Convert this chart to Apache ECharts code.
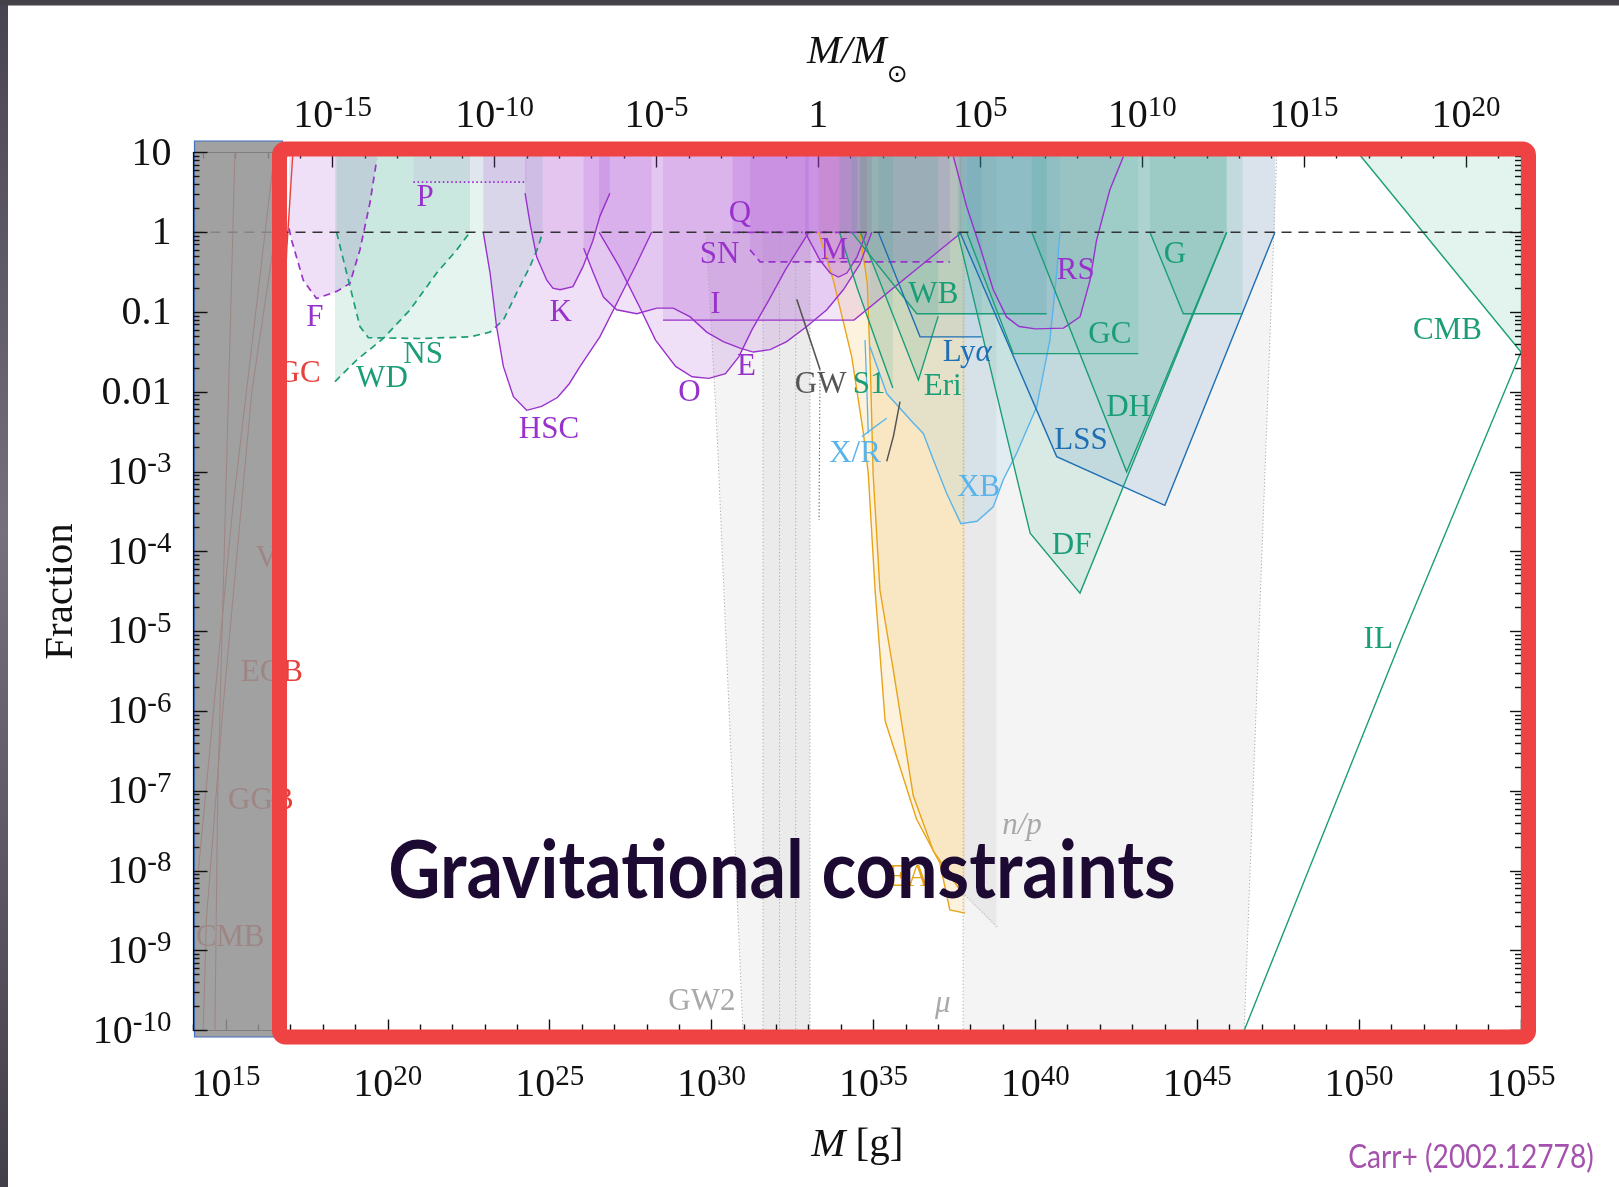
<!DOCTYPE html>
<html>
<head>
<meta charset="utf-8">
<title>PBH abundance constraints</title>
<script src="https://cdn.jsdelivr.net/npm/echarts@6.0.0/dist/echarts.min.js"></script>
<style>
html,body{margin:0;padding:0;background:#fff;}
#chart{width:1619px;height:1187px;}
</style>
</head>
<body>
<div id="chart"></div>
<script>
// ---- axis ticks --------------------------------------------------------
// bottom axis: log10(M / g)
const massTicks = [15, 20, 25, 30, 35, 40, 45, 50, 55];
// top axis: log10(M / Msun)
const solarTicks = [-15, -10, -5, 0, 5, 10, 15, 20];
// left axis: log10 f
const fractionTicks = [1, 0, -1, -2, -3, -4, -5, -6, -7, -8, -9, -10];
const LOG_MSUN_G = 33.2986;

// ---- constraint boundaries, points are [log10 M/g, log10 f] -------------
const femtolensing = [[16.95,0.05],[17.03,-0.10],[17.39,-0.60],[17.80,-0.83],[18.42,-0.74],[18.83,-0.64],[19.14,-0.22],[19.45,0.37],[19.66,0.91]];
const whiteDwarfs = [[18.37,-1.87],[19.04,-1.60],[19.86,-1.33],[20.69,-0.97],[21.51,-0.51],[22.13,-0.22],[22.54,0]];
const neutronStars = [[18.42,0],[18.73,-0.51],[19.14,-1.18],[19.40,-1.32],[21.00,-1.33],[22.54,-1.31],[23.16,-1.25],[23.57,-1.10],[23.98,-0.76],[24.39,-0.43],[24.65,-0.18],[24.78,0]];
const pulsarTiming = [[20.79,0.63],[24.29,0.63]];
const hsc = [[22.95,0],[23.16,-0.51],[23.36,-1.18],[23.57,-1.68],[23.88,-2.06],[24.29,-2.23],[24.75,-2.18],[25.24,-2.07],[25.60,-1.90],[25.94,-1.68],[26.55,-1.31],[27.17,-0.81],[27.69,-0.39],[28.15,0]];
const kepler = [[24.24,0.49],[24.40,0.10],[24.60,-0.31],[24.91,-0.60],[25.10,-0.70],[25.32,-0.72],[25.72,-0.68],[26.03,-0.43],[26.34,-0.10],[26.55,0.20],[26.86,0.49]];
const ogle = [[26.53,0],[27.15,-0.43],[27.77,-0.93],[28.27,-1.35],[28.89,-1.68],[29.40,-1.81],[29.92,-1.83],[30.43,-1.77],[30.84,-1.56],[31.25,-1.22],[31.77,-0.85],[32.28,-0.47],[33.00,0]];
const eros = [[26.05,-0.20],[26.35,-0.51],[26.66,-0.81],[27.07,-0.97],[27.69,-1.02],[28.31,-0.95],[28.82,-0.95],[29.34,-1.06],[29.85,-1.25],[30.36,-1.37],[30.88,-1.45],[31.29,-1.50],[31.81,-1.47],[32.32,-1.37],[32.94,-1.18],[33.56,-0.97],[34.07,-0.72],[34.58,-0.40],[34.95,0]];
const icarus = [[28.50,-1.10],[34.40,-1.10],[37.73,0]];
const supernova = [[31.19,-0.22],[31.50,-0.37],[37.36,-0.37]];
const quasars = [[30.65,0],[34.50,0]];
const macho = [[32.89,0],[33.35,-0.35],[33.66,-0.51],[33.92,-0.56],[34.18,-0.51],[34.49,-0.31],[34.79,0]];
const accretionA = [[33.30,0],[33.76,-0.60],[34.33,-1.56],[34.69,-2.52],[34.84,-3.02],[35.05,-4.48],[35.36,-6.12],[36.33,-7.35],[37.05,-7.90],[37.36,-8.49],[37.83,-8.53]];
const accretionB = [[34.58,0],[34.81,-0.64],[34.91,-1.77],[34.99,-3.02],[35.20,-4.48],[35.62,-5.50],[36.23,-7.06],[36.85,-7.75],[37.77,-8.30]];
const segue1 = [[33.95,0],[34.50,-0.70],[35.20,-1.50],[35.60,-1.95]];
const wideBinaries = [[34.33,0],[36.34,-1.02],[40.35,-1.02]];
const eridanus = [[34.60,0],[36.39,-1.85],[37.00,-1.05]];
const lymanAlpha = [[35.15,0],[36.44,-1.31],[38.34,-1.31]];
const xrayRadioA = [[34.74,-1.35],[34.80,-2.00],[34.84,-2.52]];
const xrayRadioB = [[34.64,-2.56],[35.00,-2.45],[35.41,-2.33]];
const xrayBinaries = [[34.89,-1.43],[35.41,-2.02],[36.23,-2.39],[36.54,-2.52],[36.85,-2.85],[37.26,-3.27],[37.70,-3.65],[38.20,-3.62],[38.70,-3.44],[39.01,-3.10],[39.42,-2.77],[40.04,-2.19],[40.45,-1.35],[40.66,-0.51],[40.76,0]];
const radioSources = [[37.47,0.95],[37.88,0.32],[38.29,-0.18],[38.70,-0.72],[39.11,-1.06],[39.50,-1.18],[40.00,-1.21],[40.87,-1.20],[41.38,-1.06],[41.69,-0.60],[41.89,-0.10],[42.30,0.53],[42.72,0.95]];
const largeScale = [[37.67,0],[40.66,-2.81],[44.00,-3.42],[47.40,0]];
const dynFriction = [[37.60,0],[39.84,-3.77],[41.38,-4.52],[45.91,0]];
const discHeating = [[39.89,0],[42.82,-3.00],[45.91,0]];
const clusters = [[37.88,0],[39.32,-1.52],[43.18,-1.52]];
const galaxies = [[43.54,0],[44.57,-1.02],[46.40,-1.02]];
const cmbDipole = [[49.96,1],[55.00,-1.50]];
const incredulity = [[46.45,-10],[51.30,-5.10],[55.00,-1.50]];
const gwMerger = [[32.63,-0.84],[33.35,-1.72]];
const gwTail = [[33.35,-1.72],[33.32,-3.60]];
const gwHook = [[35.82,-2.12],[35.62,-2.55],[35.41,-2.87]];
const evaporation1 = [[14.66,-10],[14.75,-7],[14.95,-4],[15.28,1]];
const evaporation2 = [[14.15,-8],[14.50,-6.5],[15.20,-3.5],[16.50,1]];
const evaporation3 = [[14.30,-10],[14.40,-8.6],[14.90,-6],[15.80,-2],[16.90,1]];
const evaporationEdge = [[16.70,-2.0],[16.88,-0.22],[17.07,1]];
const unity = [[14,0],[55,0]];

// grey bands (closed outlines)
const gw2Band = [[29.83,0],[30.17,-2.52],[30.97,-10],[33.04,-10],[33.04,0]];
const gw2Core = [[31.59,0],[31.59,-10],[33.04,-10],[33.04,0]];
const muBand = [[37.77,1],[37.77,-10],[46.45,-10],[47.46,1]];
const npBand = [[37.77,1],[37.77,-8.30],[38.80,-8.72],[38.80,1]];
const gw2Edge = [[29.83,0],[30.17,-2.52],[30.97,-10]];
const gw2Lines = [31.59, 32.10, 32.60, 33.04];
const muRight = [[46.45,-10],[47.46,1]];
const muLeft = [[37.77,0],[37.77,-10]];
const npDiag = [[37.83,-8.30],[38.82,-8.70]];

// ---- annotations: [text, log10 M/g, log10 f, colour] --------------------
const annotations = [
  ['P', 21.15, 0.43, 'purple'], ['F', 17.75, -1.07, 'purple'], ['GC', 17.26, -1.77, 'red'],
  ['WD', 19.82, -1.84, 'green'], ['NS', 21.09, -1.53, 'green'], ['HSC', 24.98, -2.48, 'purple'],
  ['K', 25.34, -1.01, 'purple'], ['Q', 30.88, 0.23, 'purple'], ['SN', 30.25, -0.28, 'purple'],
  ['I', 30.12, -0.91, 'purple'], ['O', 29.32, -2.01, 'purple'], ['E', 31.08, -1.68, 'purple'],
  ['M', 33.79, -0.23, 'purple'], ['GW', 33.37, -1.91, 'dark'], ['S1', 34.87, -1.91, 'green'],
  ['WB', 36.85, -0.78, 'green'], ['Ly{a|α}', 37.90, -1.51, 'blue'], ['Eri', 37.14, -1.93, 'green'],
  ['X/R', 34.43, -2.78, 'sky'], ['XB', 38.25, -3.20, 'sky'], ['RS', 41.25, -0.48, 'purple'],
  ['G', 44.31, -0.28, 'green'], ['GC', 42.30, -1.29, 'green'], ['DH', 42.88, -2.20, 'green'],
  ['LSS', 41.41, -2.61, 'blue'], ['DF', 41.12, -3.93, 'green'], ['CMB', 52.73, -1.23, 'green'],
  ['IL', 50.59, -5.11, 'green'], ['{a|n/p}', 39.59, -7.44, 'grey'], ['{a|μ}', 37.14, -9.67, 'grey'],
  ['GW2', 29.70, -9.64, 'grey'], ['EA', 36.08, -8.09, 'orange'], ['EGB', 16.42, -5.52, 'red'],
  ['GGB', 16.08, -7.12, 'red'], ['CMB', 15.13, -8.84, 'red'], ['V', 16.26, -4.09, 'red']
];

// ---- styling ------------------------------------------------------------
const palette = {
  purple: '#9932cc', green: '#1b9e77', blue: '#1f6fb4', sky: '#5ab4ea',
  red: '#e8413c', orange: '#e8a418', grey: '#a9a9a9', dark: '#555555', black: '#333333'
};
const dashes = { solid: null, dash: [7, 5], unity: [10, 7], dot: [1.6, 2.6], dashdot: [7, 3, 1.6, 3], fine: [1.2, 2.2] };
const serif = '"Liberation Serif", "Times New Roman", serif';

function rgba(hex, a) {
  const n = parseInt(hex.slice(1), 16);
  return 'rgba(' + ((n >> 16) & 255) + ',' + ((n >> 8) & 255) + ',' + (n & 255) + ',' + a + ')';
}
// close an upper-limit curve up to the top of the plot
function toTop(pts) {
  return pts.concat([[pts[pts.length - 1][0], 1], [pts[0][0], 1]]);
}

const bands = [
  { pts: gw2Band, a: 0.045 }, { pts: gw2Core, a: 0.035 },
  { pts: muBand, a: 0.045 }, { pts: npBand, a: 0.045 }
];
const regions = [
  { pts: accretionA, c: 'orange', a: 0.14 },
  { pts: accretionB, c: 'orange', a: 0.13 },
  { pts: femtolensing, c: 'purple', a: 0.15, dash: 'dash' },
  { pts: whiteDwarfs, c: 'green', a: 0.13, dash: 'dash' },
  { pts: neutronStars, c: 'green', a: 0.11, dash: 'dash' },
  { pts: pulsarTiming, c: 'purple', a: 0.07, dash: 'dot' },
  { pts: hsc, c: 'purple', a: 0.15 },
  { pts: kepler, c: 'purple', a: 0.15 },
  { pts: ogle, c: 'purple', a: 0.15 },
  { pts: eros, c: 'purple', a: 0.14 },
  { pts: icarus, c: 'purple', a: 0.12 },
  { pts: supernova, c: 'purple', a: 0.12, dash: 'dash' },
  { pts: quasars, c: 'purple', a: 0.16, dash: 'dashdot' },
  { pts: macho, c: 'purple', a: 0.14 },
  { pts: segue1, c: 'green', a: 0.12 },
  { pts: wideBinaries, c: 'green', a: 0.13 },
  { pts: eridanus, c: 'green', a: 0.13 },
  { pts: lymanAlpha, c: 'blue', a: 0.09 },
  { pts: xrayBinaries, c: 'sky', a: 0.12 },
  { pts: radioSources, c: 'purple', a: 0.08 },
  { pts: largeScale, c: 'blue', a: 0.12 },
  { pts: dynFriction, c: 'green', a: 0.12 },
  { pts: discHeating, c: 'green', a: 0.12 },
  { pts: clusters, c: 'green', a: 0.10 },
  { pts: galaxies, c: 'green', a: 0.12 },
  { pts: cmbDipole, c: 'green', a: 0.12 }
];
const fills = bands.map(b => ({ poly: b.pts, fill: rgba('#000000', b.a) }))
  .concat(regions.map(r => ({ poly: toTop(r.pts), fill: rgba(palette[r.c], r.a) })));

const strokes = [];
[evaporation1, evaporation2, evaporation3].forEach(p => strokes.push({ pts: p, c: 'red', w: 1.1 }));
strokes.push({ pts: evaporationEdge, c: 'red', w: 1.4 });
strokes.push({ pts: gw2Edge, c: 'grey', w: 1, dash: 'fine' });
gw2Lines.forEach(x => strokes.push({ pts: [[x, 0], [x, -10]], c: 'grey', w: 1, dash: 'fine' }));
strokes.push({ pts: muLeft, c: 'grey', w: 1, dash: 'fine' });
strokes.push({ pts: muRight, c: 'grey', w: 1, dash: 'fine' });
strokes.push({ pts: npDiag, c: 'grey', w: 1, dash: 'fine' });
regions.forEach(r => strokes.push({ pts: r.pts, c: r.c, w: r.dash ? 1.7 : 1.4, dash: r.dash }));
strokes.push({ pts: incredulity, c: 'green', w: 1.4 });
strokes.push({ pts: xrayRadioA, c: 'sky', w: 1.3 });
strokes.push({ pts: xrayRadioB, c: 'sky', w: 1.3 });
strokes.push({ pts: gwMerger, c: 'dark', w: 1.6 });
strokes.push({ pts: gwTail, c: 'dark', w: 1.1, dash: 'fine' });
strokes.push({ pts: gwHook, c: 'dark', w: 1.5 });
strokes.push({ pts: unity, c: 'black', w: 1.5, dash: 'unity' });

// ---- axis helpers -------------------------------------------------------
const tickRich = {
  b: { fontFamily: serif, fontSize: 40, color: '#111', lineHeight: 43, verticalAlign: 'bottom' },
  s: { fontFamily: serif, fontSize: 29, color: '#111', lineHeight: 22, verticalAlign: 'top' }
};
function powLabel(v) {
  v = Math.round(v);
  return v === 0 ? '{b|1}' : '{b|10}{s|' + v + '}';
}
function fracLabel(v) {
  v = Math.round(v);
  const plain = { 1: '10', 0: '1', '-1': '0.1', '-2': '0.01' };
  return plain[v] !== undefined ? '{b|' + plain[v] + '}' : '{b|10}{s|' + v + '}';
}
const massMinor = [], solarMinor = [], fracMinor = [];
for (let d = 14; d <= 55; d++) if (d % 5 !== 0) massMinor.push(d);
for (let d = -19; d <= 21; d++) if (d % 5 !== 0) solarMinor.push(d);
for (let d = -10; d < 1; d++) for (let k = 2; k < 10; k++) fracMinor.push(d + Math.log10(k));

const tickLine = { color: '#111', width: 1.4 };
const hidden = { show: false };
function xAx(pos, min, max, major, minor, len, extra) {
  return [
    Object.assign({
      type: 'value', position: pos, min: min, max: max,
      axisLine: { show: true, onZero: false, lineStyle: { color: '#111', width: 1.2 } },
      axisTick: { show: true, inside: true, length: len, customValues: major, lineStyle: tickLine },
      axisLabel: { show: true, customValues: major, formatter: powLabel, rich: tickRich, margin: pos === 'top' ? 16 : 32, showMinLabel: true, showMaxLabel: true },
      splitLine: hidden
    }, extra || {}),
    {
      type: 'value', position: pos, min: min, max: max,
      axisLine: { show: false, onZero: false },
      axisTick: { show: true, inside: true, length: 6, customValues: minor, lineStyle: tickLine },
      axisLabel: hidden, splitLine: hidden
    }
  ];
}
function yAx(pos, len, withLabels, z, extra) {
  return [
    Object.assign({
      type: 'value', position: pos, min: -10, max: 1, interval: 1, z: z,
      axisLine: { show: true, onZero: false, lineStyle: { color: '#111', width: 1.2 } },
      axisTick: { show: true, inside: true, length: len, lineStyle: tickLine },
      axisLabel: withLabels ? { formatter: fracLabel, rich: tickRich, margin: 22, showMinLabel: true, showMaxLabel: true } : hidden,
      splitLine: hidden
    }, extra || {}),
    {
      type: 'value', position: pos, min: -10, max: 1, z: z,
      axisLine: { show: false, onZero: false },
      axisTick: { show: true, inside: true, length: 6, customValues: fracMinor, lineStyle: tickLine },
      axisLabel: hidden, splitLine: hidden
    }
  ];
}

const xAxes = xAx('bottom', 14, 55, massTicks, massMinor, 11, {
  name: '{i|M} [g]', nameLocation: 'middle', nameGap: 94,
  nameTextStyle: { fontFamily: serif, fontSize: 41, color: '#111', rich: { i: { fontFamily: serif, fontSize: 41, fontStyle: 'italic', color: '#111' } } }
}).concat(xAx('top', 14 - LOG_MSUN_G, 55 - LOG_MSUN_G, solarTicks, solarMinor, 15, {
  name: '{i|M/M}{o|⊙}', nameLocation: 'middle', nameGap: 65,
  nameTextStyle: {
    fontFamily: serif, fontSize: 41, color: '#111',
    rich: {
      i: { fontFamily: serif, fontSize: 41, fontStyle: 'italic', color: '#111', lineHeight: 42, verticalAlign: 'top' },
      o: { fontFamily: '"DejaVu Sans", sans-serif', fontSize: 25, color: '#111', lineHeight: 56, verticalAlign: 'bottom' }
    }
  }
}));
const yAxes = yAx('left', 14, true, 150, {
  name: 'Fraction', nameLocation: 'middle', nameGap: 102, nameRotate: 90,
  nameTextStyle: { fontFamily: serif, fontSize: 41, color: '#111' }
}).concat(yAx('right', 11, false, 3));

// ---- series ---------------------------------------------------------------
const fillSeries = {
  type: 'custom', coordinateSystem: 'cartesian2d', xAxisIndex: 0, yAxisIndex: 0,
  silent: true, clip: true, z: 2,
  data: fills.map((s, i) => [s.poly[0][0], s.poly[0][1], i]),
  renderItem: function (params, api) {
    const s = fills[params.dataIndex];
    return { type: 'polygon', shape: { points: s.poly.map(p => api.coord(p)) }, style: { fill: s.fill } };
  }
};
const strokeSeries = {
  type: 'custom', coordinateSystem: 'cartesian2d', xAxisIndex: 0, yAxisIndex: 0,
  silent: true, clip: true, z: 3,
  data: strokes.map((s, i) => [s.pts[0][0], s.pts[0][1], i]),
  renderItem: function (params, api) {
    const s = strokes[params.dataIndex];
    return {
      type: 'polyline', shape: { points: s.pts.map(p => api.coord(p)) },
      style: { stroke: palette[s.c], lineWidth: s.w, fill: null, lineDash: s.dash ? dashes[s.dash] : null }
    };
  }
};
const labelSeries = {
  type: 'custom', coordinateSystem: 'cartesian2d', xAxisIndex: 0, yAxisIndex: 0,
  silent: true, clip: false, z: 4,
  data: annotations.map((l, i) => [l[1], l[2], i]),
  renderItem: function (params, api) {
    const l = annotations[params.dataIndex];
    const p = api.coord([l[1], l[2]]);
    const col = palette[l[3]];
    return {
      type: 'text', x: p[0], y: p[1],
      style: {
        text: l[0], fill: col, fontFamily: serif, fontSize: 31,
        font: '31px ' + serif,
        align: 'center', verticalAlign: 'middle', textAlign: 'center', textVerticalAlign: 'middle',
        rich: { a: { fontFamily: serif, fontSize: 31, fontStyle: 'italic', fill: col, color: col } }
      }
    };
  }
};

// ---- slide framing ----------------------------------------------------------
const graphics = [
  { type: 'rect', z: 100, shape: { x: 0, y: 0, width: 8, height: 1187 },
    style: { fill: { type: 'linear', x: 0, y: 0, x2: 0, y2: 1, colorStops: [
      { offset: 0, color: '#48444f' }, { offset: 0.45, color: '#756f7e' }, { offset: 1, color: '#433f48' }] } } },
  { type: 'rect', z: 100, shape: { x: 0, y: 0, width: 1619, height: 5.5 }, style: { fill: '#444149' } },
  { type: 'rect', z: 100, shape: { x: 194.5, y: 141, width: 88, height: 896 },
    style: { fill: 'rgba(145,145,145,0.86)', stroke: '#3f6fc0', lineWidth: 1.2 } },
  { type: 'rect', z: 200, shape: { x: 279.5, y: 149, width: 1249, height: 888, r: 6 },
    style: { fill: null, stroke: '#ef4343', lineWidth: 15 } },
  { type: 'text', z: 300, x: 782, y: 872, scaleX: 0.9,
    style: { text: 'Gravitational constraints', font: 'bold 80px "Lato", "Open Sans", sans-serif',
      fill: '#1d0a33', textAlign: 'center', textVerticalAlign: 'middle', align: 'center', verticalAlign: 'middle' } },
  { type: 'text', z: 300, x: 1471, y: 1158, scaleX: 0.88,
    style: { text: 'Carr+ (2002.12778)', font: '32px "Lato", "Open Sans", sans-serif',
      fill: '#a452ad', textAlign: 'center', textVerticalAlign: 'middle', align: 'center', verticalAlign: 'middle' } }
];

const chart = echarts.init(document.getElementById('chart'), null, { renderer: 'canvas' });
chart.setOption({
  animation: false,
  backgroundColor: '#ffffff',
  grid: { left: 193.5, right: 98, top: 152.5, bottom: 156.5, containLabel: false },
  xAxis: xAxes,
  yAxis: yAxes,
  series: [fillSeries, strokeSeries, labelSeries],
  graphic: { elements: graphics }
});
</script>
</body>
</html>
